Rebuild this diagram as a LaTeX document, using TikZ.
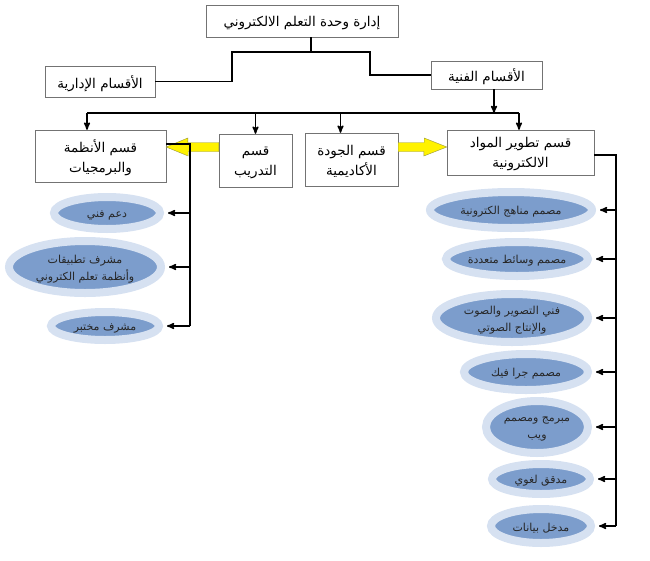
\documentclass[tikz,border=0pt]{standalone}
\usepackage{fontspec}
\usepackage{tikz}
\usetikzlibrary{positioning, arrows, shapes.geometric}
\newfontfamily\arabicfont[Script=Arabic]{DejaVu Sans}
\TeXXeTstate=1
\newcommand{\artxt}[1]{\raisebox{-2pt}[\height][\depth]{\beginR #1\endR}}
\definecolor{ringblue}{RGB}{214,225,241}
\definecolor{jobblue}{RGB}{124,157,204}
\definecolor{arrowedge}{RGB}{150,150,60}
\tikzset{>=stealth', x=1pt, y=-1pt}
\tikzstyle{box}=[draw=black!55, thin, fill=white, inner sep=1pt, align=center, font=\arabicfont\fontsize{13.5}{20}\selectfont]
\tikzstyle{job}=[ellipse, draw=ringblue, line width=8pt, fill=jobblue, inner xsep=-8pt, inner ysep=-3pt, align=center, text=black!85, font=\arabicfont\fontsize{11}{16.5}\selectfont]
\tikzstyle{wire}=[line width=1.5pt]
\tikzstyle{yarrow}=[fill=yellow, draw=arrowedge, thin]

\begin{document}
\begin{tikzpicture}
\useasboundingbox (0,0) rectangle (650,560);
\node[box, minimum width=192, minimum height=32] (top) at (302,21) {\artxt{إدارة وحدة التعلم الالكتروني}};
\node[box, minimum width=110, minimum height=31] (adm) at (100,81.5) {\artxt{الأقسام الإدارية}};
\node[box, minimum width=111, minimum height=28] (tech) at (486.5,75) {\artxt{الأقسام الفنية}};
\node[box, minimum width=131, minimum height=52] (sys) at (100.5,156) {\artxt{قسم الأنظمة}\\\artxt{والبرمجيات}};
\node[box, minimum width=73, minimum height=53] (train) at (255.5,160.5) {\artxt{قسم}\\\artxt{التدريب}};
\node[box, minimum width=93, minimum height=53] (qual) at (351.5,159.5) {\artxt{قسم الجودة}\\\artxt{الأكاديمية}};
\node[box, minimum width=147, minimum height=45] (dev) at (520.5,152.5) {\artxt{قسم تطوير المواد}\\\artxt{الالكترونية}};
\node[job, minimum width=106, minimum height=32] (support) at (107,213) {\artxt{دعم فني}};
\node[job, minimum width=152, minimum height=52] (appsup) at (85,267) {\artxt{مشرف تطبيقات}\\\artxt{وأنظمة تعلم الكتروني}};
\node[job, minimum width=108, minimum height=28] (labsup) at (105,326) {\artxt{مشرف مختبر}};
\node[job, minimum width=162, minimum height=36] (curric) at (511,210) {\artxt{مصمم مناهج الكترونية}};
\node[job, minimum width=142, minimum height=34] (media) at (517,259) {\artxt{مصمم وسائط متعددة}};
\node[job, minimum width=152, minimum height=48] (sound) at (512,318) {\artxt{فني التصوير والصوت}\\\artxt{والإنتاج الصوتي}};
\node[job, minimum width=124, minimum height=36] (graph) at (526,372) {\artxt{مصمم جرا فيك}};
\node[job, minimum width=102, minimum height=52] (web) at (537,427) {\artxt{مبرمج ومصمم}\\\artxt{ويب}};
\node[job, minimum width=98, minimum height=30] (proof) at (541,479) {\artxt{مدقق لغوي}};
\node[job, minimum width=100, minimum height=34] (entry) at (541,526) {\artxt{مدخل بيانات}};
\draw[wire] ([xshift=9]top.south) -- ++(0,15) coordinate (split);
\draw[wire] (split) -- ++(-79,0) |- (adm.east);
\draw[wire] (split) -- ++(59,0) |- (tech.west);
\coordinate (busL) at (87,113);
\coordinate (busR) at (519,113);
\draw[wire] (busL) -- (busR);
\draw[wire, ->] ([xshift=7.5]tech.south) -- ([xshift=7.5]tech.south |- busR);
\draw[wire, ->] (busL) -- (busL |- sys.north);
\draw[wire, ->] (busR) -- (busR |- dev.north);
\draw[wire, ->] (train.north |- busL) -- (train.north);
\draw[wire, ->] ([xshift=-11]qual.north |- busL) -- ([xshift=-11]qual.north);
\draw[yarrow] (train.west |- 0,142.5) -- ++(-31,0) -- ++(0,-4.5) -- (sys.east |- 0,147) -- ++(22,9) -- ++(0,-4.5) -- (train.west |- 0,151.5) -- cycle;
\draw[yarrow] (qual.east |- 0,142.5) -- ++(26,0) -- ++(0,-4.5) -- (dev.west |- 0,147) -- ++(-23,9) -- ++(0,-4.5) -- (qual.east |- 0,151.5) -- cycle;
\draw[wire] ([yshift=12]sys.east) -- ++(24,0) coordinate (ltrunk) -- (ltrunk |- labsup.east);
\foreach \job in {support, appsup, labsup}
  \draw[wire, ->, shorten >=4pt] (ltrunk |- \job.east) -- (\job.east);
\draw[wire] ([yshift=-2.5]dev.east) -- ++(22,0) coordinate (rtrunk) -- (rtrunk |- entry.west);
\foreach \job in {curric, media, sound, graph, web, proof, entry}
  \draw[wire, ->, shorten >=4pt] (rtrunk |- \job.east) -- (\job.east);
\end{tikzpicture}
\end{document}
